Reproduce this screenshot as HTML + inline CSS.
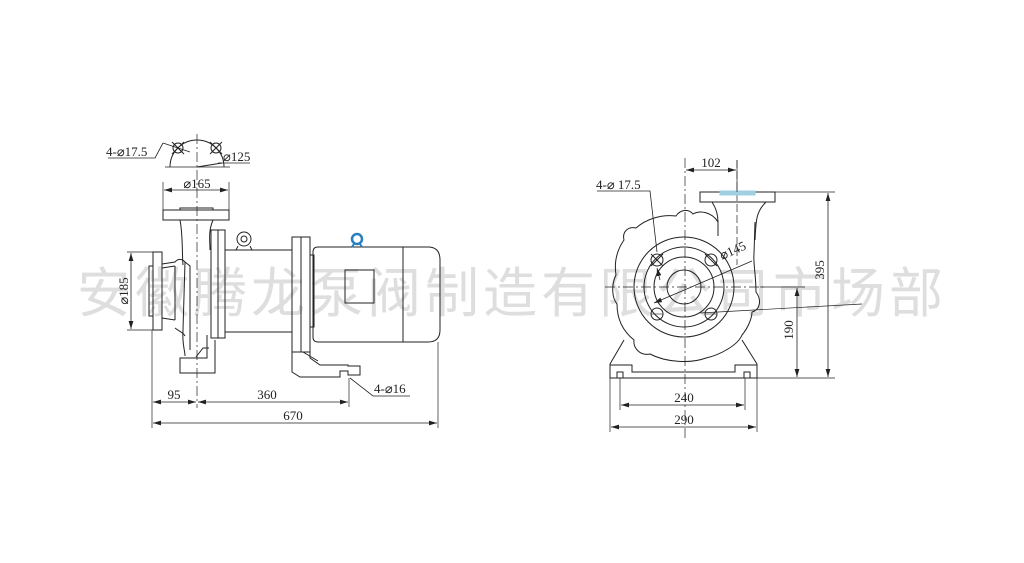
<!DOCTYPE html>
<html><head><meta charset="utf-8"><style>
html,body{margin:0;padding:0;background:#fff;width:1024px;height:563px;overflow:hidden}
svg{display:block}
text{font-family:"Liberation Serif",serif;fill:#222}
</style></head><body>
<svg width="1024" height="563" viewBox="0 0 1024 563" xmlns="http://www.w3.org/2000/svg">
<defs>
<marker id="a" viewBox="0 0 10 6" refX="10" refY="3" markerWidth="8" markerHeight="5" markerUnits="userSpaceOnUse" orient="auto-start-reverse"><path d="M0,0 L10,3 L0,6 z" fill="#222"/></marker>
</defs>
<!-- watermark -->
<text x="512" y="312" text-anchor="middle" font-size="54" style="font-family:'Liberation Sans','Noto Sans CJK SC',sans-serif;fill:#dedede" letter-spacing="4">安徽腾龙泵阀制造有限公司市场部</text>

<g fill="none" stroke="#222" stroke-width="1">
<!-- LEFT VIEW -->
<line x1="197" y1="134" x2="197" y2="408" stroke-dasharray="10,3,2,3" stroke-width="0.7"/>
<path d="M170,167 A27,27 0 0 1 224,167"/>
<line x1="165" y1="167" x2="230" y2="167" stroke-width="0.7"/>
<circle cx="178" cy="148" r="5"/><circle cx="216" cy="148" r="5"/>
<line x1="172" y1="142" x2="184" y2="154"/><line x1="172" y1="154" x2="184" y2="142"/>
<line x1="210" y1="142" x2="222" y2="154"/><line x1="210" y1="154" x2="222" y2="142"/>
<line x1="197" y1="167" x2="222" y2="163"/>
<polyline points="108,158 155,158 163,143" stroke-width="0.8"/>
<line x1="163" y1="143" x2="190" y2="152" stroke-width="0.8"/>
<line x1="218" y1="163" x2="250" y2="163" stroke-width="0.8"/>
<line x1="163" y1="182" x2="163" y2="210" stroke-width="0.7"/><line x1="229" y1="182" x2="229" y2="210" stroke-width="0.7"/>
<line x1="164" y1="190" x2="228" y2="190" marker-start="url(#a)" marker-end="url(#a)" stroke-width="0.8"/>
<rect x="163" y="210" width="66" height="10"/>
<rect x="180" y="208" width="33" height="2"/>
<path d="M180,220 C183,235 182,255 183,265 M213,220 C208,232 210,240 210,250"/>
<path d="M162,264 L175,262 C180,256 185,262 185,262 L183,330 C182,345 185,350 185,356"/>
<path d="M185,262 L190,266 L190,350"/>
<path d="M175,328 C180,332 183,332 185,336"/>
<rect x="153" y="252" width="9" height="78"/>
<rect x="149" y="266" width="4" height="50"/>
<line x1="162" y1="268" x2="175" y2="266"/><line x1="162" y1="318" x2="175" y2="320"/>
<line x1="175" y1="266" x2="175" y2="320"/>
<rect x="211" y="230" width="14" height="108"/>
<line x1="218" y1="230" x2="218" y2="338"/>
<path d="M207,335 L207,358 L180,358 L180,373 L215,373 L215,340"/>
<path d="M196,357 L203,348 L209,348"/>
<rect x="225" y="250" width="67" height="82"/>
<circle cx="244" cy="239" r="7"/><circle cx="244" cy="239" r="3"/>
<line x1="238" y1="246" x2="236" y2="250"/><line x1="250" y1="246" x2="252" y2="250"/>
<rect x="292" y="237" width="18" height="115"/>
<line x1="301" y1="237" x2="301" y2="352"/>
<rect x="310" y="255" width="4" height="72"/>
<path d="M318,247 L428,247 Q440,247 440,260 L440,330 Q440,342 428,342 L318,342 Q313,342 313,337 L313,252 Q313,247 318,247 Z"/>
<line x1="403" y1="247" x2="403" y2="342"/>
<rect x="345" y="270" width="29" height="33"/>
<circle cx="357" cy="239" r="5" stroke="#2a7fc0" stroke-width="2.5"/>
<line x1="354" y1="244" x2="352" y2="247" stroke="#2a7fc0" stroke-width="2"/><line x1="360" y1="244" x2="362" y2="247" stroke="#2a7fc0" stroke-width="2"/>
<path d="M292,352 L292,372 L300,377 L340,377 L340,371 L348,371 L348,375 L360,375 L360,366 L348,366 L348,365 L320,365 L310,358 L310,352"/>
<line x1="303" y1="352" x2="318" y2="361"/>
<line x1="127" y1="252" x2="153" y2="252" stroke-width="0.7"/><line x1="127" y1="330" x2="153" y2="330" stroke-width="0.7"/>
<line x1="131" y1="253" x2="131" y2="329" marker-start="url(#a)" marker-end="url(#a)" stroke-width="0.8"/>
<line x1="152" y1="330" x2="152" y2="428" stroke-width="0.7"/>
<line x1="438" y1="342" x2="438" y2="428" stroke-width="0.7"/>
<line x1="349" y1="378" x2="349" y2="407" stroke-width="0.7"/>
<line x1="153" y1="402" x2="196" y2="402" marker-start="url(#a)" marker-end="url(#a)" stroke-width="0.8"/>
<line x1="198" y1="402" x2="348" y2="402" marker-start="url(#a)" marker-end="url(#a)" stroke-width="0.8"/>
<line x1="153" y1="423" x2="437" y2="423" marker-start="url(#a)" marker-end="url(#a)" stroke-width="0.8"/>
<polyline points="350,378 373,396 410,396" stroke-width="0.8"/>

<!-- RIGHT VIEW -->
<line x1="685" y1="158" x2="685" y2="438" stroke-dasharray="10,3,2,3" stroke-width="0.7"/>
<line x1="605" y1="287" x2="765" y2="287" stroke-dasharray="10,3,2,3" stroke-width="0.7"/>
<line x1="737" y1="160" x2="737" y2="265" stroke-dasharray="8,3" stroke-width="0.7"/>
<path d="M718,222 C712,212 700,210 693,214 C688,208 680,210 676,216 C660,214 645,220 636,228 C628,226 622,232 624,240 C617,250 614,262 616,275 C611,285 612,298 617,304 C617,320 624,332 634,340 C633,348 640,356 650,354 C665,362 690,364 706,358 C720,355 738,345 742,335 C748,328 752,318 752,312 C760,310 762,300 756,292 C756,275 753,262 754,254 L755,222"/>
<rect x="700" y="192" width="75" height="10"/>
<rect x="720" y="191" width="35" height="4" fill="#9fcfe0" stroke="#9fcfe0"/>
<path d="M712,202 C716,208 718,214 718,222 L718,236 M766,202 C756,212 756,220 755,240"/>
<circle cx="684" cy="287" r="50"/>
<circle cx="684" cy="287" r="40"/>
<circle cx="684" cy="287" r="30"/>
<circle cx="684" cy="287" r="17"/>
<circle cx="657" cy="260" r="6"/><circle cx="711" cy="260" r="6"/>
<circle cx="657" cy="314" r="6"/><circle cx="711" cy="314" r="6"/>
<line x1="651" y1="254" x2="663" y2="266"/><line x1="651" y1="266" x2="663" y2="254"/>
<line x1="705" y1="254" x2="717" y2="266"/><line x1="705" y1="314" x2="717" y2="314" stroke-width="0.6"/>
<line x1="651" y1="314" x2="663" y2="314" stroke-width="0.6"/>
<path d="M624,340 L610,364 L610,378 L757,378 L757,364 L742,340"/>
<path d="M610,365 L632,365 L632,372 L735,372 L735,365 L757,365"/>
<path d="M617,378 L617,372 L623,372 L623,378 M744,378 L744,372 L750,372 L750,378"/>
<line x1="775" y1="192" x2="835" y2="192" stroke-width="0.7"/>
<line x1="757" y1="378" x2="835" y2="378" stroke-width="0.7"/>
<line x1="760" y1="287" x2="805" y2="287" stroke-width="0.7"/>
<line x1="828" y1="193" x2="828" y2="377" marker-start="url(#a)" marker-end="url(#a)" stroke-width="0.8"/>
<line x1="797" y1="288" x2="797" y2="377" marker-start="url(#a)" marker-end="url(#a)" stroke-width="0.8"/>
<line x1="737" y1="160" x2="737" y2="192" stroke-width="0.7"/>
<line x1="686" y1="170" x2="736" y2="170" marker-start="url(#a)" marker-end="url(#a)" stroke-width="0.8"/>
<line x1="620" y1="378" x2="620" y2="410" stroke-width="0.7"/><line x1="745" y1="378" x2="745" y2="410" stroke-width="0.7"/>
<line x1="610" y1="378" x2="610" y2="432" stroke-width="0.7"/><line x1="757" y1="378" x2="757" y2="432" stroke-width="0.7"/>
<line x1="621" y1="405" x2="744" y2="405" marker-start="url(#a)" marker-end="url(#a)" stroke-width="0.8"/>
<line x1="611" y1="427" x2="756" y2="427" marker-start="url(#a)" marker-end="url(#a)" stroke-width="0.8"/>
<line x1="700" y1="313" x2="862" y2="304" stroke-width="0.7"/>
<line x1="654" y1="303" x2="752" y2="261" marker-start="url(#a)" stroke-width="0.8"/>
<polyline points="597,191 650,191 657,252" stroke-width="0.8"/>
<line x1="660" y1="280" x2="657" y2="268" marker-end="url(#a)" stroke-width="0.8"/>
</g>

<text x="106" y="156" font-size="13">4-⌀17.5</text>
<text x="223" y="161" font-size="13">⌀125</text>
<text x="197" y="188" font-size="13" text-anchor="middle">⌀165</text>
<text x="0" y="0" font-size="13" text-anchor="middle" transform="translate(128,291) rotate(-90)">⌀185</text>
<text x="174" y="399" font-size="13" text-anchor="middle">95</text>
<text x="267" y="399" font-size="13" text-anchor="middle">360</text>
<text x="293" y="420" font-size="13" text-anchor="middle">670</text>
<text x="374" y="393" font-size="13">4-⌀16</text>
<text x="711" y="167" font-size="13" text-anchor="middle">102</text>
<text x="596" y="189" font-size="13">4-⌀ 17.5</text>
<text x="0" y="0" font-size="13" transform="translate(722,260) rotate(-24)">⌀145</text>
<text x="0" y="0" font-size="13" text-anchor="middle" transform="translate(824,270) rotate(-90)">395</text>
<text x="0" y="0" font-size="13" text-anchor="middle" transform="translate(793,330) rotate(-90)">190</text>
<text x="684" y="402" font-size="13" text-anchor="middle">240</text>
<text x="684" y="424" font-size="13" text-anchor="middle">290</text>
</svg>
</body></html>
